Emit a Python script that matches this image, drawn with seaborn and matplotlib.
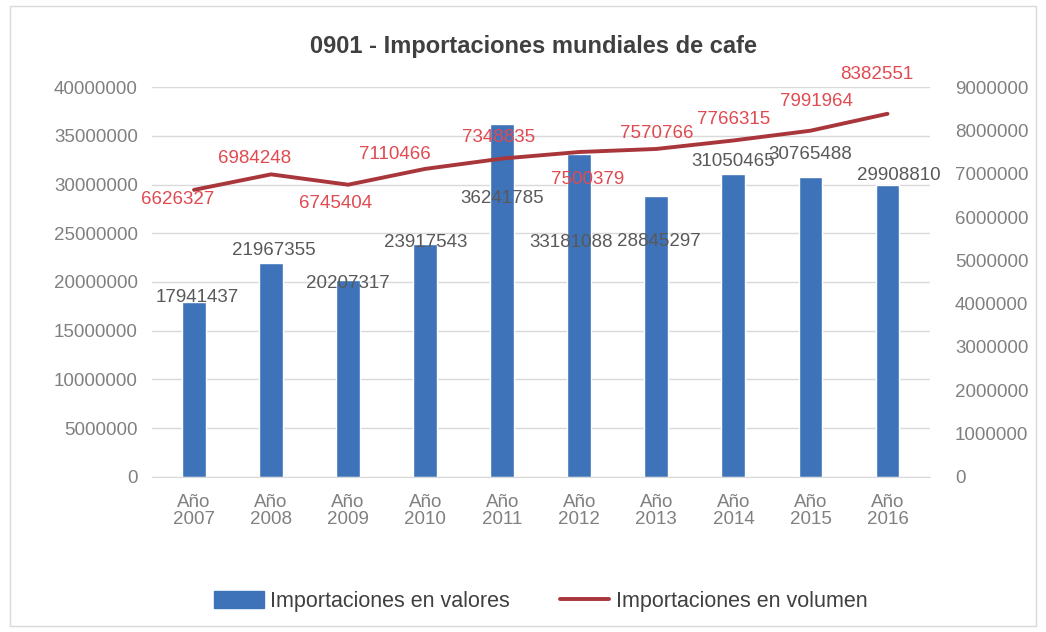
import matplotlib
matplotlib.use('Agg')
import matplotlib.pyplot as plt
import numpy as np
import pandas as pd
import seaborn as sns
from matplotlib.patches import Rectangle

sns.set_style('white')
plt.rcParams['font.family'] = ['Liberation Sans', 'DejaVu Sans']

# datos
anios = ['2007', '2008', '2009', '2010', '2011', '2012', '2013', '2014', '2015', '2016']
valores = [17941437, 21967355, 20207317, 23917543, 36241785, 33181088, 28845297, 31050465, 30765488, 29908810]
volumen = [6626327, 6984248, 6745404, 7110466, 7348835, 7500379, 7570766, 7766315, 7991964, 8382551]
etiquetas_x = ['Año\n' + a for a in anios]

# desplazamiento (puntos) de las etiquetas, como en el original
off_val = [(2, -3), (2, 3), (0, -9), (0, -5), (0, -60), (-6, -70), (2, -39), (0, 3), (0, 10), (8, 1)]
off_vol = [(-12, -13), (-12, 5), (-9, -20), (-22, 4), (-3, 9), (6, -26), (0, 5), (0, 9), (4, 15), (-8, 22)]

df = pd.DataFrame({'x': np.arange(len(anios)), 'valores': valores, 'volumen': volumen})

azul = '#3e73b9'
rojo = '#a8363b'
gris = '#595959'
fs = 13.5

fig = plt.figure(figsize=(10.46, 6.32), dpi=100)
ax = fig.add_axes([0.145, 0.2453, 0.744, 0.617])

sns.barplot(data=df, x='x', y='valores', color=azul, width=0.31, saturation=1, ax=ax, zorder=2)
ax.set_ylim(0, 40000000)
ax.set_yticks(np.arange(0, 40000001, 5000000))
ax.set_yticklabels([str(v) for v in range(0, 40000001, 5000000)])
ax.set_xlim(-0.55, 9.55)
ax.set_xticks(np.arange(len(anios)))
ax.set_xticklabels(etiquetas_x, linespacing=1.05)
ax.grid(axis='y', color='#d9d9d9', linewidth=1, zorder=0)
ax.set_axisbelow(True)
for s in ax.spines.values():
    s.set_visible(False)
ax.spines['bottom'].set_visible(True)
ax.spines['bottom'].set_color('#d9d9d9')
ax.tick_params(axis='both', length=0, colors='#808080', labelsize=fs)
ax.tick_params(axis='x', pad=12)
ax.tick_params(axis='y', pad=10)
ax.set_xlabel('')
ax.set_ylabel('')

for i, v in enumerate(valores):
    ax.annotate(str(v), (i, v), xytext=off_val[i], textcoords='offset points',
                ha='center', va='bottom', fontsize=fs, color=gris, zorder=5)

ax2 = ax.twinx()
sns.lineplot(data=df, x='x', y='volumen', color=rojo, linewidth=2.8, ax=ax2, zorder=3)
ax2.set_ylim(0, 9000000)
ax2.set_yticks(np.arange(0, 9000001, 1000000))
ax2.set_yticklabels([str(v) for v in range(0, 9000001, 1000000)])
ax2.set_xlim(-0.55, 9.55)
for s in ax2.spines.values():
    s.set_visible(False)
ax2.tick_params(axis='y', length=0, colors='#808080', labelsize=fs, pad=18)
ax2.set_ylabel('')
ax2.set_xlabel('')

for i, v in enumerate(volumen):
    ax2.annotate(str(v), (i, v), xytext=off_vol[i], textcoords='offset points',
                 ha='center', va='bottom', fontsize=fs, color='#e04a50', zorder=5)

fig.text(0.51, 0.927, '0901 - Importaciones mundiales de cafe', ha='center', va='center',
         fontsize=17, fontweight='bold', color='#404040')

# leyenda
h1 = Rectangle((0, 0), 1, 1, color=azul)
h2 = plt.Line2D([0], [0], color=rojo, linewidth=2.8)
fig.legend([h1, h2], ['Importaciones en valores', 'Importaciones en volumen'],
           loc='center', bbox_to_anchor=(0.517, 0.048), ncol=2, frameon=False,
           fontsize=15.5, labelcolor='#404040', handlelength=2.3, handleheight=0.8,
           columnspacing=2.3, handletextpad=0.3)

# marco exterior
fig.patches.append(Rectangle((0.01, 0.01), 0.98, 0.98, transform=fig.transFigure,
                             fill=False, edgecolor='#d9d9d9', linewidth=1))

fig.savefig('out.png', dpi=100)
